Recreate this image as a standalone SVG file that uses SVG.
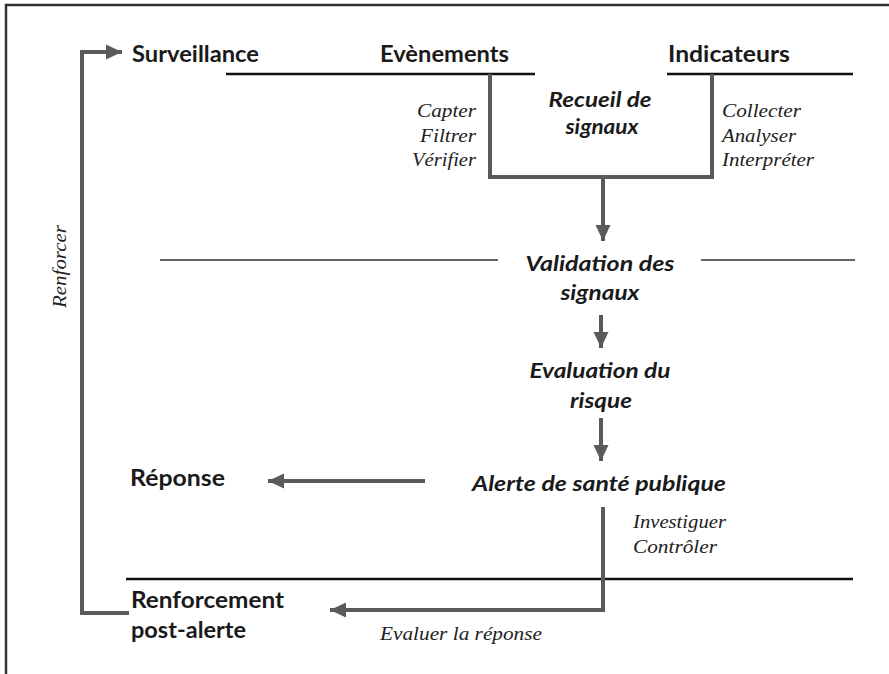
<svg xmlns="http://www.w3.org/2000/svg" width="889" height="674" viewBox="0 0 889 674">
<style>
.h{font-family:Lato,"Open Sans","Liberation Sans",sans-serif;font-weight:bold;font-size:22px;fill:#1a1a1a}
.hi{font-family:Lato,"Open Sans","Liberation Sans",sans-serif;font-weight:bold;font-style:italic;font-size:21.5px;fill:#1a1a1a;text-anchor:middle}
.v{font-family:"Liberation Serif",serif;font-style:italic;font-size:18.5px;fill:#222}
.e{text-anchor:end}
.blk{stroke:#111;stroke-width:2.5;fill:none}
.thin{stroke:#333;stroke-width:1.4;fill:none}
.gr{stroke:#5a5a5a;stroke-width:4;fill:none}
</style>
<defs>
<marker id="ah" markerUnits="userSpaceOnUse" markerWidth="18" markerHeight="18" viewBox="0 0 18 18" refX="16" refY="9" orient="auto">
<path d="M0,1.5 L16,9 L0,16.5 Z" fill="#5a5a5a"/>
</marker>
</defs>
<rect width="889" height="674" fill="#fff"/>
<path d="M6,674 V5 H889" stroke="#333" stroke-width="2.5" fill="none"/>
<g id="lines">
<line class="blk" x1="226" y1="74" x2="535" y2="74"/>
<line class="blk" x1="667" y1="74" x2="853" y2="74"/>
<line class="thin" x1="160" y1="260" x2="498" y2="260"/>
<line class="thin" x1="701" y1="260" x2="855" y2="260"/>
<line class="blk" x1="126" y1="579" x2="853" y2="579"/>
</g>
<g id="connectors">
<path class="gr" d="M490,74 V177 H712 V74"/>
<path class="gr" d="M603,177 V241" marker-end="url(#ah)"/>
<path class="gr" d="M601,315 V348" marker-end="url(#ah)"/>
<path class="gr" d="M601,418 V461" marker-end="url(#ah)"/>
<path class="gr" d="M425,481 H268" stroke-width="5.5" marker-end="url(#ah)"/>
<path class="gr" d="M603,507 V610 H330" marker-end="url(#ah)"/>
<path class="gr" d="M129,613 H82 V52 H122" marker-end="url(#ah)"/>
</g>
<g id="surveillance"><text class="h" x="132" y="62" textLength="127" lengthAdjust="spacingAndGlyphs">Surveillance</text></g>
<g id="evenements"><text class="h" x="380" y="62" textLength="129" lengthAdjust="spacingAndGlyphs">Evènements</text></g>
<g id="indicateurs"><text class="h" x="668" y="62" textLength="122" lengthAdjust="spacingAndGlyphs">Indicateurs</text></g>
<g id="recueil"><text class="hi" x="600" y="107" textLength="103" lengthAdjust="spacingAndGlyphs">Recueil de</text><text class="hi" x="602" y="134" textLength="73" lengthAdjust="spacingAndGlyphs">signaux</text></g>
<g id="capter"><text class="v e" x="476" y="117" textLength="59" lengthAdjust="spacingAndGlyphs">Capter</text><text class="v e" x="476" y="142" textLength="56" lengthAdjust="spacingAndGlyphs">Filtrer</text><text class="v e" x="476" y="166" textLength="64" lengthAdjust="spacingAndGlyphs">Vérifier</text></g>
<g id="collecter"><text class="v" x="722" y="117" textLength="79" lengthAdjust="spacingAndGlyphs">Collecter</text><text class="v" x="722" y="142" textLength="74" lengthAdjust="spacingAndGlyphs">Analyser</text><text class="v" x="722" y="166" textLength="92" lengthAdjust="spacingAndGlyphs">Interpréter</text></g>
<g id="validation"><text class="hi" x="600" y="271" textLength="149" lengthAdjust="spacingAndGlyphs">Validation des</text><text class="hi" x="600" y="300" textLength="79" lengthAdjust="spacingAndGlyphs">signaux</text></g>
<g id="evaluation"><text class="hi" x="600" y="378" textLength="141" lengthAdjust="spacingAndGlyphs">Evaluation du</text><text class="hi" x="601" y="408" textLength="62" lengthAdjust="spacingAndGlyphs">risque</text></g>
<g id="alerte"><text class="hi" x="599" y="491" textLength="254" lengthAdjust="spacingAndGlyphs">Alerte de santé publique</text></g>
<g id="reponse"><text class="h" x="130" y="486" textLength="95" lengthAdjust="spacingAndGlyphs">Réponse</text></g>
<g id="investiguer"><text class="v" x="633" y="528" textLength="93" lengthAdjust="spacingAndGlyphs">Investiguer</text><text class="v" x="633" y="553" textLength="84" lengthAdjust="spacingAndGlyphs">Contrôler</text></g>
<g id="renforcement"><text class="h" x="131" y="608" textLength="153" lengthAdjust="spacingAndGlyphs">Renforcement</text><text class="h" x="131" y="638" textLength="115" lengthAdjust="spacingAndGlyphs">post-alerte</text></g>
<g id="evaluer"><text class="v" x="380" y="640" textLength="162" lengthAdjust="spacingAndGlyphs">Evaluer la réponse</text></g>
<g id="renforcer"><text class="v" transform="translate(66,266.5) rotate(-90)" text-anchor="middle" textLength="83" lengthAdjust="spacingAndGlyphs">Renforcer</text></g>
</svg>
